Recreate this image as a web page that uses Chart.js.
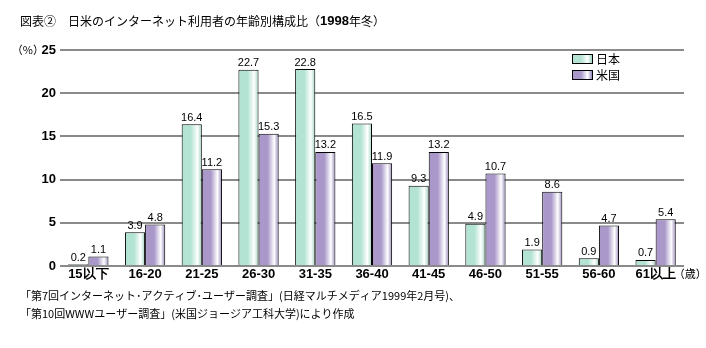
<!DOCTYPE html>
<html>
<head>
<meta charset="utf-8">
<script src="https://cdn.jsdelivr.net/npm/chart.js@4"></script>
<style>
  html, body { margin: 0; padding: 0; background: #fff; }
  #wrap { width: 706px; height: 348px; position: relative; }
</style>
</head>
<body>
<div id="wrap"><canvas id="chart" width="706" height="348"></canvas></div>
<script>
// 年齢別構成比 (%)
const ageGroups = ['15以下', '16-20', '21-25', '26-30', '31-35', '36-40', '41-45', '46-50', '51-55', '56-60', '61以上'];
const japan = [0.2, 3.9, 16.4, 22.7, 22.8, 16.5, 9.3, 4.9, 1.9, 0.9, 0.7];
const usa = [1.1, 4.8, 11.2, 15.3, 13.2, 11.9, 13.2, 10.7, 8.6, 4.7, 5.4];
const yTicks = [0, 5, 10, 15, 20, 25];

const seriesNames = ['日本', '米国'];
const baseColors = ['#b2e3d3', '#a998c9'];
const edgeColors = ['#9fd4c2', '#9585b8'];

const JP = '"Noto Sans CJK JP", sans-serif';
const NUM = '"Liberation Sans Narrow", "Liberation Sans", sans-serif';

function barGradient(ctx, left, right, i) {
    const g = ctx.createLinearGradient(left, 0, right, 0);
    g.addColorStop(0, baseColors[i]);
    g.addColorStop(0.45, baseColors[i]);
    g.addColorStop(0.78, '#ffffff');
    g.addColorStop(1, edgeColors[i]);
    return g;
}

// shaded fill per bar; options objects are shared, so each bar gets its own copy
const shadePlugin = {
    id: 'shade',
    beforeDatasetsDraw(chart) {
        const ctx = chart.ctx;
        chart.data.datasets.forEach((ds, i) => {
            chart.getDatasetMeta(i).data.forEach(bar => {
                const l = bar.x - bar.width / 2, r = bar.x + bar.width / 2;
                bar.options = Object.assign({}, bar.options, { backgroundColor: barGradient(ctx, l, r, i) });
            });
        });
    }
};

// value labels above the bars
const valueLabels = {
    id: 'valueLabels',
    afterDatasetsDraw(chart) {
        const ctx = chart.ctx;
        ctx.save();
        ctx.font = '11px ' + NUM;
        ctx.fillStyle = '#000';
        ctx.textAlign = 'center';
        ctx.textBaseline = 'bottom';
        chart.data.datasets.forEach((ds, i) => {
            chart.getDatasetMeta(i).data.forEach((bar, j) => {
                ctx.fillText(ds.data[j].toFixed(1), bar.x, bar.y - 1);
            });
        });
        ctx.restore();
    }
};

// title, unit marks, legend, source notes
const decorations = {
    id: 'decorations',
    afterDraw(chart) {
        const ctx = chart.ctx;
        const area = chart.chartArea;
        ctx.save();
        ctx.fillStyle = '#000';
        ctx.textBaseline = 'middle';

        // title
        ctx.textAlign = 'left';
        ctx.font = '12px ' + JP;
        let x = 20;
        const t1 = '図表②　日米のインターネット利用者の年齢別構成比（';
        ctx.fillText(t1, x, 21);
        x += ctx.measureText(t1).width;
        ctx.font = 'bold 13px ' + NUM;
        ctx.fillText('1998', x, 21);
        x += ctx.measureText('1998').width;
        ctx.font = '12px ' + JP;
        ctx.fillText('年冬）', x, 21);

        // unit
        ctx.font = '11px ' + JP;
        ctx.textAlign = 'right';
        ctx.fillText('（%）', 44, area.top);

        // age unit after the last category
        const xs = chart.scales.x;
        const lastX = xs.getPixelForValue(ageGroups.length - 1);
        ctx.textAlign = 'left';
        ctx.font = '11px ' + JP;
        ctx.fillText('（歳）', lastX + 18, area.bottom + 8);

        // legend
        const lx = 572;
        seriesNames.forEach((name, i) => {
            const y = 54 + i * 16;
            ctx.fillStyle = barGradient(ctx, lx, lx + 20, i);
            ctx.fillRect(lx, y, 20, 9);
            ctx.strokeStyle = '#000';
            ctx.lineWidth = 1;
            ctx.strokeRect(lx + 0.5, y + 0.5, 20, 9);
            ctx.fillStyle = '#000';
            ctx.font = '12px ' + JP;
            ctx.fillText(name, lx + 24, y + 5);
        });

        // source notes
        ctx.font = '11px ' + JP;
        ctx.fillText('「第7回インターネット･アクティブ･ユーザー調査」(日経マルチメディア1999年2月号)、', 20, 296);
        ctx.fillText('「第10回WWWユーザー調査」(米国ジョージア工科大学)により作成', 20, 314);
        ctx.restore();
    }
};

new Chart(document.getElementById('chart'), {
    type: 'bar',
    data: {
        labels: ageGroups,
        datasets: [
            { label: seriesNames[0], data: japan, borderColor: '#000', borderWidth: 1 },
            { label: seriesNames[1], data: usa, borderColor: '#000', borderWidth: 1 }
        ]
    },
    options: {
        responsive: false,
        animation: false,
        devicePixelRatio: 1,
        layout: { padding: { left: 0, right: 22, top: 50, bottom: 62 } },
        datasets: { bar: { categoryPercentage: 0.71, barPercentage: 1 } },
        plugins: { legend: { display: false }, tooltip: { enabled: false } },
        scales: {
            x: {
                grid: { display: false, drawTicks: false },
                border: { display: false },
                afterFit(s) { s.height = 20; },
                ticks: { color: '#000', font: { family: NUM, size: 13, weight: 'bold' }, padding: 1, maxRotation: 0 }
            },
            y: {
                min: 0, max: 25,
                afterFit(s) { s.width = 60; },
                afterBuildTicks(s) { s.ticks = yTicks.map(v => ({ value: v })); },
                border: { display: false },
                grid: { color: '#8a8a8a', lineWidth: 2, drawTicks: false },
                ticks: { color: '#000', font: { family: NUM, size: 13, weight: 'bold' }, padding: 4 }
            }
        }
    },
    plugins: [shadePlugin, valueLabels, decorations]
});
</script>
</body>
</html>
